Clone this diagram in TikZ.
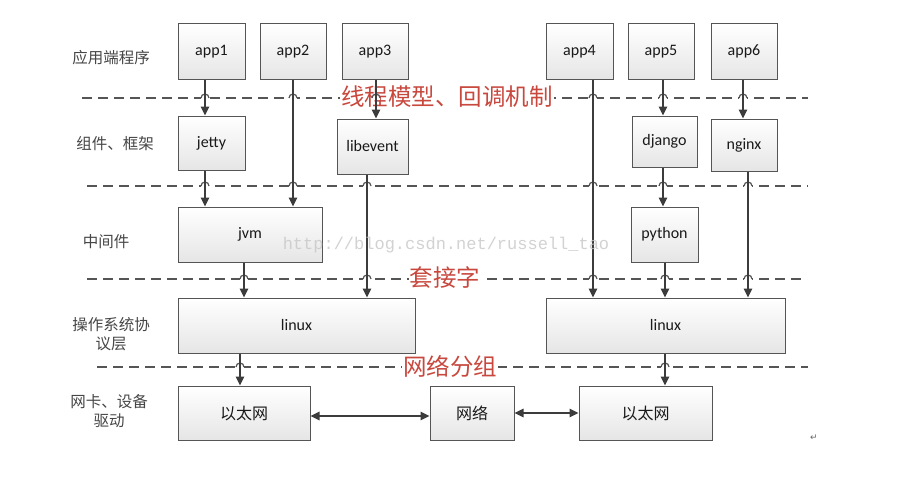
\documentclass[tikz,border=0pt]{standalone}
\usepackage{fontspec}
\setmainfont{Carlito}
\newfontfamily\cjk{Noto Sans CJK SC}
\newfontfamily\wmfont{Liberation Mono}
\newfontfamily\symfont{DejaVu Sans}
\usetikzlibrary{arrows.meta}
\definecolor{edge}{RGB}{85,85,85}
\definecolor{arrcol}{RGB}{60,60,60}
\definecolor{redtxt}{RGB}{200,72,62}
\definecolor{labtxt}{RGB}{70,70,70}
\tikzset{
  box/.style={draw=edge, line width=1pt, top color=white, bottom color=black!10,
    inner sep=0pt, font=\fontsize{16}{18}\selectfont, text=black!90},
  arr/.style={draw=arrcol, line width=1.3pt, -{Triangle[length=9pt,width=8.5pt]}},
  darr/.style={draw=arrcol, line width=1.3pt, {Triangle[length=9pt,width=8.5pt]}-{Triangle[length=9pt,width=8.5pt]}},
  dline/.style={draw=edge, line width=1.5pt, dash pattern=on 10pt off 6pt},
  layerlab/.style={font=\cjk\fontsize{15.5}{19}\selectfont, text=labtxt, align=center},
  redlab/.style={font=\cjk\fontsize{23.5}{25}\selectfont, text=redtxt, fill=white, inner sep=1pt}
}
\newcommand{\hop}[2]{%
  \fill[white] (#1-4,#2-2) rectangle (#1+4,#2+2);
  \draw[edge, line width=1.2pt] (#1-4,#2) arc (180:360:4);}
\begin{document}
\begin{tikzpicture}[x=1pt,y=-1pt]
\fill[white] (0,0) rectangle (918,487);
\useasboundingbox (0,0) rectangle (918,487);

% layer labels
\node[layerlab] (l1) at (111,58) {应用端程序};
\node[layerlab] (l2) at (115,144) {组件、框架};
\node[layerlab] (l3) at (106,242) {中间件};
\node[layerlab] (l4) at (111,334) {操作系统协\\议层};
\node[layerlab] (l5) at (109,411) {网卡、设备\\驱动};

% dashed separators
\draw[dline] (82,98) -- (808,98);
\draw[dline] (87,186) -- (808,186);
\draw[dline] (87,279) -- (803,279);
\draw[dline] (97,367) -- (808,367);

% red labels
\node[redlab] (r1) at (447,97) {线程模型、回调机制};
\node[redlab] (r2) at (445,278) {套接字};
\node[redlab] (r3) at (450,366) {网络分组};

% hops
\foreach \x in {205,293,376,593,663,743} {\hop{\x}{98}}
\foreach \x in {205,293,367,593,663,748} {\hop{\x}{186}}
\foreach \x in {244,367,593,665,748} {\hop{\x}{279}}
\foreach \x in {240,665} {\hop{\x}{367}}

% boxes
\node[box, minimum width=67, minimum height=55] (app1) at (211.5,51.5) {app1};
\node[box, minimum width=66, minimum height=55] (app2) at (293,51.5) {app2};
\node[box, minimum width=66, minimum height=55] (app3) at (375,51.5) {app3};
\node[box, minimum width=67, minimum height=55] (app4) at (579.5,51.5) {app4};
\node[box, minimum width=66, minimum height=55] (app5) at (661,51.5) {app5};
\node[box, minimum width=66, minimum height=55] (app6) at (744,51.5) {app6};

\node[box, minimum width=67, minimum height=54] (jetty) at (211.5,143) {jetty};
\node[box, minimum width=71, minimum height=55] (libevent) at (372.5,146.5) {libevent};
\node[box, minimum width=65, minimum height=51] (django) at (664.5,141.5) {django};
\node[box, minimum width=66, minimum height=52] (nginx) at (744,145) {nginx};

\node[box, minimum width=144, minimum height=55] (jvm) at (250,234.5) {jvm};
\node[box, minimum width=67, minimum height=55] (python) at (664.5,234.5) {python};

\node[box, minimum width=237, minimum height=55] (linux1) at (296.5,325.5) {linux};
\node[box, minimum width=239, minimum height=55] (linux2) at (665.5,325.5) {linux};

\node[box, minimum width=132, minimum height=54, font=\cjk\fontsize{16}{18}\selectfont] (eth1) at (244,413) {以太网};
\node[box, minimum width=84, minimum height=54, font=\cjk\fontsize{16}{18}\selectfont] (net) at (472,413) {网络};
\node[box, minimum width=133, minimum height=54, font=\cjk\fontsize{16}{18}\selectfont] (eth2) at (645.5,413) {以太网};

% arrows
\draw[arr] ([xshift=-6.5pt]app1.south) -- ([xshift=-6.5pt]app1.south |- jetty.north);
\draw[arr] ([xshift=-6.5pt]jetty.south) -- ([xshift=-6.5pt]jetty.south |- jvm.north);
\draw[arr] (app2.south) -- (app2.south |- jvm.north);
\draw[arr] ([xshift=1pt]app3.south) -- ([xshift=1pt]app3.south |- libevent.north);
\draw[arr] ([xshift=-5.5pt]libevent.south) -- ([xshift=-5.5pt]libevent.south |- linux1.north);
\draw[arr] ([xshift=-6pt]jvm.south) -- ([xshift=-6pt]jvm.south |- linux1.north);
\draw[arr] ([xshift=13.5pt]app4.south) -- ([xshift=13.5pt]app4.south |- linux2.north);
\draw[arr] ([xshift=2pt]app5.south) -- ([xshift=2pt]app5.south |- django.north);
\draw[arr] ([xshift=-1.5pt]django.south) -- ([xshift=-1.5pt]django.south |- python.north);
\draw[arr] ([xshift=0.5pt]python.south) -- ([xshift=0.5pt]python.south |- linux2.north);
\draw[arr] ([xshift=-1pt]app6.south) -- ([xshift=-1pt]app6.south |- nginx.north);
\draw[arr] ([xshift=4pt]nginx.south) -- ([xshift=4pt]nginx.south |- linux2.north);
\draw[arr] ([xshift=-56.5pt]linux1.south) -- ([xshift=-56.5pt]linux1.south |- eth1.north);
\draw[arr] ([xshift=-0.5pt]linux2.south) -- ([xshift=-0.5pt]linux2.south |- eth2.north);
\draw[darr] ([yshift=-3pt]eth1.east) -- ([yshift=-3pt]net.west);
\draw[darr] (net.east) -- (eth2.west);

% watermark (drawn over everything, very light)
\node[font=\wmfont\fontsize{17}{19}\selectfont, text=black!22, opacity=0.8] (wm) at (446,245) {http://blog.csdn.net/russell\_tao};

% return mark
\node[font=\symfont\fontsize{9}{10}\selectfont, text=black!60] (ret) at (814,438) {↵};
\end{tikzpicture}
\end{document}
